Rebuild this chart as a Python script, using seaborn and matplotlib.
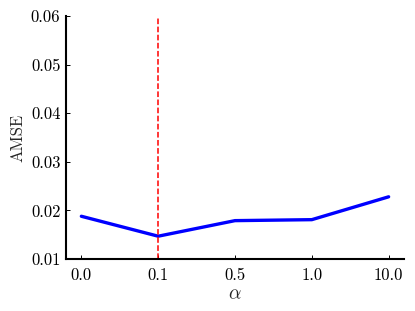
import matplotlib
matplotlib.use("Agg")
import matplotlib.pyplot as plt
import seaborn as sns
import pandas as pd

alphas = ["0.0", "0.1", "0.5", "1.0", "10.0"]
amse = [0.0188, 0.0147, 0.0179, 0.0181, 0.0228]
best_alpha = "0.1"

sns.set_theme(style="ticks")
plt.rcParams["font.family"] = "serif"
plt.rcParams["font.serif"] = ["cmr10"]
plt.rcParams["mathtext.fontset"] = "cm"
plt.rcParams["axes.formatter.use_mathtext"] = True
plt.rcParams["axes.unicode_minus"] = False

df = pd.DataFrame({"pos": range(len(alphas)), "amse": amse})

fig = plt.figure(figsize=(4.15, 3.11), dpi=100)
ax = fig.add_axes([0.159, 0.167, 0.8145, 0.782])
sns.lineplot(data=df, x="pos", y="amse", color="blue", linewidth=2.4, ax=ax)
ax.axvline(alphas.index(best_alpha), color="red", linestyle="--", linewidth=1.1,
           ymin=0, ymax=0.99)

ax.set_xlim(-0.2, 4.2)
ax.set_ylim(0.01, 0.06)
ax.set_xticks(range(len(alphas)))
ax.set_xticklabels(alphas)
ax.set_yticks([0.01, 0.02, 0.03, 0.04, 0.05, 0.06])
ax.set_yticklabels(["0.01", "0.02", "0.03", "0.04", "0.05", "0.06"])
ax.set_xlabel(r"$\alpha$", fontsize=14, labelpad=2)
ax.set_ylabel("AMSE", fontsize=12, labelpad=4)
ax.tick_params(direction="in", length=3, width=0.7, labelsize=12, colors="black", pad=4)
ax.tick_params(axis="x", pad=6)
for s in ["top", "right"]:
    ax.spines[s].set_visible(False)
for s in ["left", "bottom"]:
    ax.spines[s].set_color("black")
    ax.spines[s].set_linewidth(1.5)
ax.grid(False)
fig.savefig("out.png", dpi=100)
